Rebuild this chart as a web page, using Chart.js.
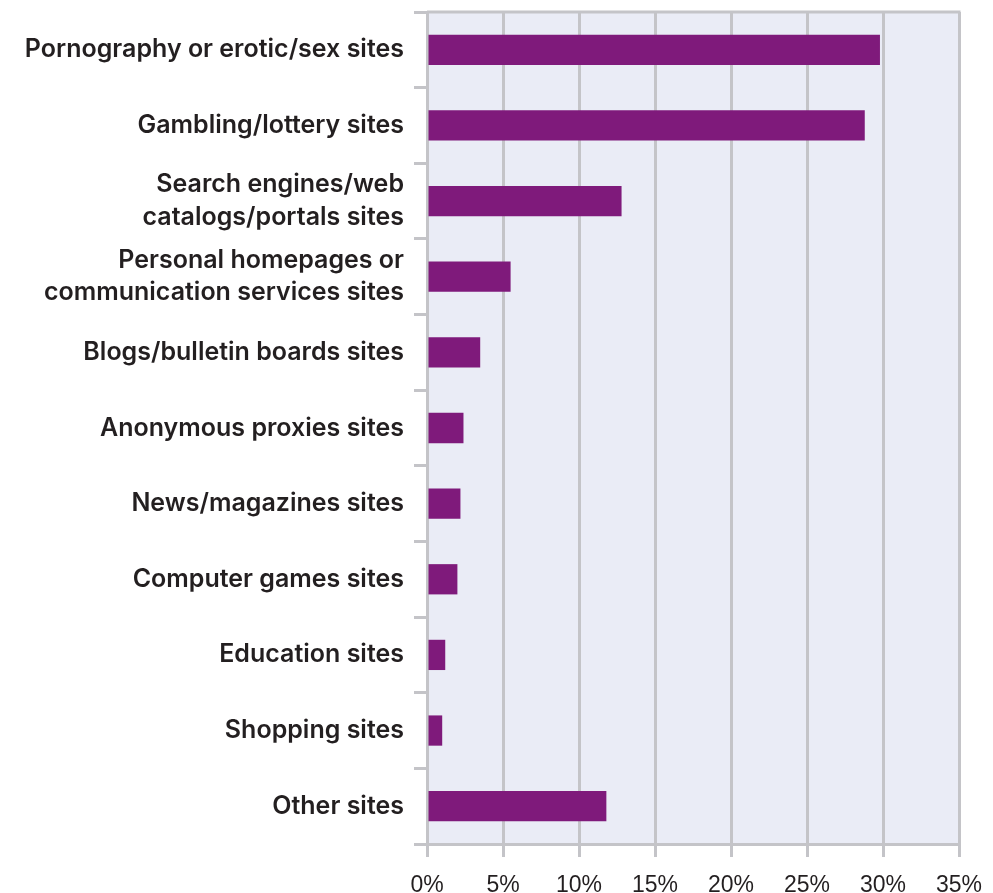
<!DOCTYPE html>
<html>
<head>
<meta charset="utf-8">
<script src="https://cdn.jsdelivr.net/npm/chart.js@4.4.1/dist/chart.umd.min.js"></script>
<style>
  html, body { margin: 0; padding: 0; background: #fff; }
  #wrap { width: 993px; height: 893px; }
</style>
</head>
<body>
<div id="wrap"><canvas id="chart"></canvas></div>
<script>
// Site categories (top to bottom) and their share of blocked requests, %
const categories = [
  'Pornography or erotic/sex sites',
  'Gambling/lottery sites',
  ['Search engines/web', 'catalogs/portals sites'],
  ['Personal homepages or', 'communication services sites'],
  'Blogs/bulletin boards sites',
  'Anonymous proxies sites',
  'News/magazines sites',
  'Computer games sites',
  'Education sites',
  'Shopping sites',
  'Other sites'
];
const shares = [29.8, 28.8, 12.8, 5.5, 3.5, 2.4, 2.2, 2.0, 1.2, 1.0, 11.8];
const xTicks = [0, 5, 10, 15, 20, 25, 30, 35];

const gridColor = '#c4c4c8';

// paint the lavender plot background and the top frame line
const plotBackground = {
    id: 'plotBackground',
    beforeDraw(chart) {
        const { ctx, chartArea: a } = chart;
        ctx.save();
        ctx.fillStyle = '#eaecf6';
        ctx.fillRect(a.left, a.top, a.right - a.left, a.bottom - a.top);
        ctx.restore();
    },
    afterDatasetsDraw(chart) {
        const { ctx, chartArea: a } = chart;
        ctx.save();
        ctx.strokeStyle = gridColor;
        ctx.lineWidth = 3;
        ctx.beginPath();
        ctx.moveTo(a.left, a.top);
        ctx.lineTo(a.right + 1.5, a.top);
        ctx.stroke();
        ctx.restore();
    }
};

new Chart(document.getElementById('chart'), {
    type: 'bar',
    data: {
        labels: categories,
        datasets: [{
            data: shares,
            backgroundColor: '#7f1a7b',
            borderWidth: 0,
            barPercentage: 0.4,
            categoryPercentage: 1
        }]
    },
    options: {
        indexAxis: 'y',
        responsive: true,
        maintainAspectRatio: false,
        animation: false,
        layout: { padding: { top: 12, right: 34, left: 0, bottom: 0 } },
        plugins: {
            legend: { display: false },
            tooltip: { enabled: false }
        },
        scales: {
            x: {
                min: 0,
                max: 35,
                afterBuildTicks: (scale) => {
                    scale.ticks = xTicks.map(v => ({ value: v }));
                },
                afterFit: (scale) => {
                    scale.height = 49;
                    scale.paddingRight = 0;
                },
                grid: {
                    color: gridColor,
                    lineWidth: 3,
                    tickLength: 13,
                    drawTicks: true
                },
                border: { color: gridColor, width: 3 },
                ticks: {
                    callback: (v) => v + '%',
                    color: '#231f20',
                    padding: 15,
                    maxRotation: 0,
                    font: { family: '"Liberation Sans", Arial, sans-serif', size: 23 }
                }
            },
            y: {
                afterFit: (scale) => {
                    scale.width = 427;
                    scale.paddingTop = 0;
                    scale.paddingBottom = 0;
                },
                grid: {
                    offset: true,
                    drawOnChartArea: false,
                    color: gridColor,
                    lineWidth: 3,
                    tickLength: 13
                },
                border: { color: gridColor, width: 3 },
                ticks: {
                    color: '#231f20',
                    padding: 10,
                    font: {
                        family: 'Inter, "Liberation Sans", sans-serif',
                        size: 25,
                        weight: 600,
                        lineHeight: 1.3
                    }
                }
            }
        }
    },
    plugins: [plotBackground]
});
</script>
</body>
</html>
